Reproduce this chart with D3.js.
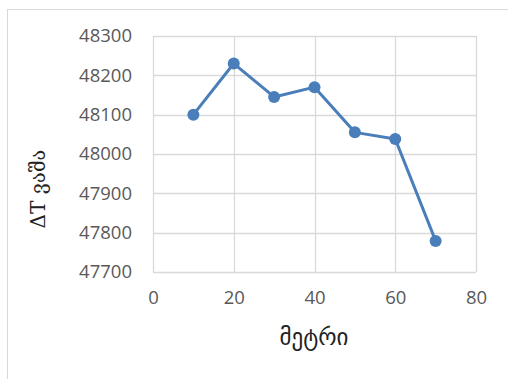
<!DOCTYPE html>
<html>
<head>
<meta charset="utf-8">
<script src="https://cdn.jsdelivr.net/npm/d3@7"></script>
<style>
html,body{margin:0;padding:0;background:#fff;}
svg{display:block;}
</style>
</head>
<body>
<svg id="chart" width="508" height="379"></svg>
<script>
const xValues = [10, 20, 30, 40, 50, 60, 70];
const yValues = [48100, 48230, 48145, 48170, 48055, 48038, 47779];
const xTicks = [0, 20, 40, 60, 80];
const yTicks = [47700, 47800, 47900, 48000, 48100, 48200, 48300];
const xTitle = "მეტრი";
const yTitle = "ΔT ვაშა";

const svg = d3.select("#chart");
const W = 508, H = 379;
const m = {left: 153, right: 476, top: 36, bottom: 272};

svg.append("rect").attr("x", 7.5).attr("y", 9.5).attr("width", W).attr("height", H)
  .attr("fill", "#fff").attr("stroke", "#d9d9d9").attr("stroke-width", 1);

const x = d3.scaleLinear().domain([0, 80]).range([m.left, m.right]);
const y = d3.scaleLinear().domain([47700, 48300]).range([m.bottom, m.top]);

const gridColor = "#d9d9d9";
const labelColor = "#595959";
const tickFont = "'Open Sans', 'Liberation Sans', sans-serif";

// gridlines
svg.append("g").selectAll("line").data(yTicks).join("line")
  .attr("x1", m.left).attr("x2", m.right)
  .attr("y1", d => Math.round(y(d)) + 0.5).attr("y2", d => Math.round(y(d)) + 0.5)
  .attr("stroke", gridColor).attr("stroke-width", 1.3);
svg.append("g").selectAll("line").data(xTicks).join("line")
  .attr("y1", m.top).attr("y2", m.bottom)
  .attr("x1", d => Math.round(x(d)) + 0.5).attr("x2", d => Math.round(x(d)) + 0.5)
  .attr("stroke", gridColor).attr("stroke-width", 1.3);

// axes via d3 axis generators
const yAxis = d3.axisLeft(y).tickValues(yTicks).tickSize(0).tickPadding(0).tickFormat(d3.format("d"));
const gy = svg.append("g").attr("transform", `translate(${m.left - 21},0)`).call(yAxis);
gy.select(".domain").remove();
gy.selectAll("text").attr("fill", labelColor).style("font-family", tickFont).style("font-size", "18.5px");

const xAxis = d3.axisBottom(x).tickValues(xTicks).tickSize(0).tickPadding(0).tickFormat(d3.format("d"));
const gx = svg.append("g").attr("transform", `translate(0,${m.bottom + 19})`).call(xAxis);
gx.select(".domain").remove();
gx.selectAll("text").attr("fill", labelColor).style("font-family", tickFont).style("font-size", "18.5px");

// line
const pts = xValues.map((v, i) => [v, yValues[i]]);
svg.append("path").datum(pts)
  .attr("fill", "none").attr("stroke", "#4a7ebb").attr("stroke-width", 3)
  .attr("stroke-linejoin", "round")
  .attr("d", d3.line().x(d => x(d[0])).y(d => y(d[1])));
svg.append("g").selectAll("circle").data(pts).join("circle")
  .attr("cx", d => x(d[0])).attr("cy", d => y(d[1])).attr("r", 6)
  .attr("fill", "#4a7ebb");

// titles
svg.append("text").attr("x", 314).attr("y", 345).attr("text-anchor", "middle")
  .attr("fill", "#222").style("font-family", "'DejaVu Sans', sans-serif").style("font-size", "23px")
  .text(xTitle);
svg.append("text").attr("transform", "translate(45,189) rotate(-90)").attr("text-anchor", "middle")
  .attr("fill", "#222").style("font-family", "'DejaVu Serif', 'DejaVu Sans', serif").style("font-size", "20px")
  .text(yTitle);
</script>
</body>
</html>
